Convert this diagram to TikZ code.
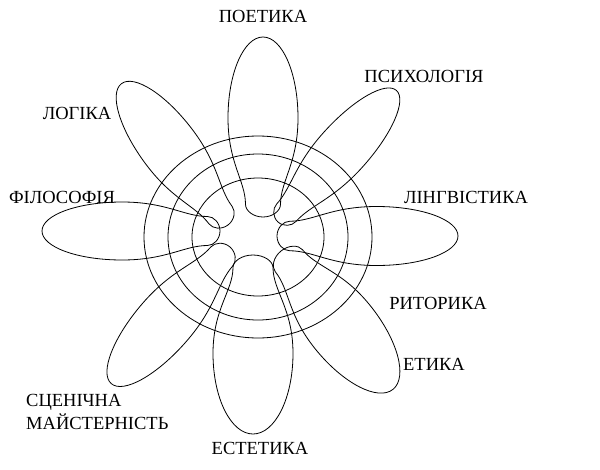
\documentclass[tikz,border=0pt]{standalone}
\usepackage{fontspec}
\setmainfont{Liberation Serif}

\tikzset{
	ring/.style={draw=black, line width=0.8pt},
	petal/.style={draw=black, line width=0.8pt},
	lbl/.style={font=\fontsize{18.5}{23}\selectfont, inner sep=0pt, anchor=base}
}

\begin{document}
\begin{tikzpicture}[x=1pt, y=-1pt]

\useasboundingbox (0,0) rectangle (600,469);

% three rings round the middle
\foreach \rx/\ry in {114/101, 90/83, 66/59}
{
	\draw[ring] (258,237) ellipse ({\rx} and {\ry});
}

% eight petals: inner tip x / y, direction, length, half width
\foreach \px/\py/\ang/\len/\wid in {263/217/90/180/35, 278/222/48/177/26, 277/236/0/181/29.5, 281/251/309/178/35, 253/255/270/179/40, 230/247/229/181/29, 220/231/180/178/29, 228/225/127/177/29}
{
	\begin{scope}[shift={(\px,\py)}, rotate=\ang]
	\draw[petal] (0,0) .. controls (0,0.28*\wid) and (0.035*\len,0.5*\wid) .. (0.07*\len,0.5*\wid)
		.. controls (0.2*\len,0.5*\wid) and (0.3*\len,\wid) .. (0.55*\len,\wid)
		.. controls (0.8*\len,\wid) and (\len,0.55*\wid) .. (\len,0)
		.. controls (\len,-0.55*\wid) and (0.8*\len,-\wid) .. (0.55*\len,-\wid)
		.. controls (0.3*\len,-\wid) and (0.2*\len,-0.5*\wid) .. (0.07*\len,-0.5*\wid)
		.. controls (0.035*\len,-0.5*\wid) and (0,-0.28*\wid) .. cycle;
	\end{scope}
}

% labels
\node[lbl] (poetyka) at (263,22.5) {ПОЕТИКА};
\node[lbl] (psykholohiia) at (424,82.5) {ПСИХОЛОГІЯ};
\node[lbl] (lohika) at (77,119.5) {ЛОГІКА};
\node[lbl] (filosofiia) at (62,203.5) {ФІЛОСОФІЯ};
\node[lbl] (linhvistyka) at (466,203.5) {ЛІНГВІСТИКА};
\node[lbl] (rytoryka) at (438,309.5) {РИТОРИКА};
\node[lbl] (etyka) at (434,370.5) {ЕТИКА};
\node[lbl, anchor=west, align=left] (stsenichna) at (26,411.5) {СЦЕНІЧНА\\МАЙСТЕРНІСТЬ};
\node[lbl] (estetyka) at (260,454.5) {ЕСТЕТИКА};

\end{tikzpicture}
\end{document}
